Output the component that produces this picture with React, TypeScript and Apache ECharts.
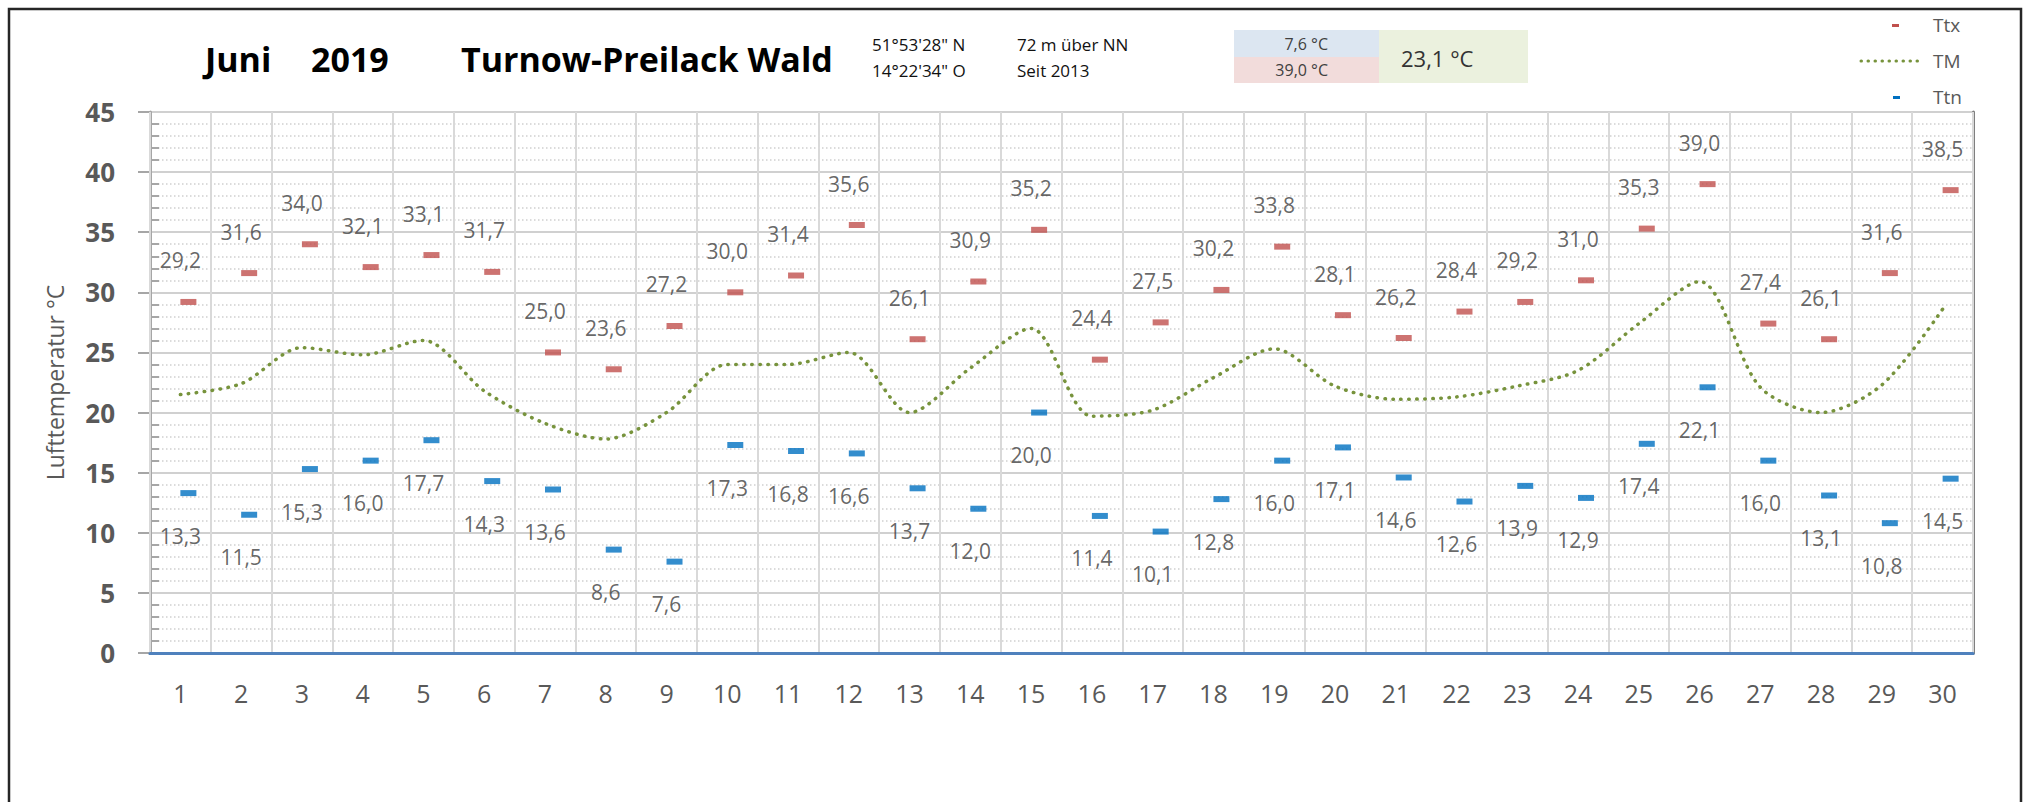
import React, { useEffect, useRef } from 'react';
import * as echarts from 'echarts';

const days = ['1','2','3','4','5','6','7','8','9','10','11','12','13','14','15','16','17','18','19','20','21','22','23','24','25','26','27','28','29','30'];
const ttx = [29.2, 31.6, 34.0, 32.1, 33.1, 31.7, 25.0, 23.6, 27.2, 30.0, 31.4, 35.6, 26.1, 30.9, 35.2, 24.4, 27.5, 30.2, 33.8, 28.1, 26.2, 28.4, 29.2, 31.0, 35.3, 39.0, 27.4, 26.1, 31.6, 38.5];
const ttn = [13.3, 11.5, 15.3, 16.0, 17.7, 14.3, 13.6, 8.6, 7.6, 17.3, 16.8, 16.6, 13.7, 12.0, 20.0, 11.4, 10.1, 12.8, 16.0, 17.1, 14.6, 12.6, 13.9, 12.9, 17.4, 22.1, 16.0, 13.1, 10.8, 14.5];
const tm = [21.5, 22.4, 25.4, 24.8, 26.0, 21.8, 19.1, 17.8, 20.0, 24.0, 24.0, 25.0, 20.0, 23.7, 27.0, 19.7, 20.2, 22.9, 25.3, 22.2, 21.1, 21.3, 22.2, 23.5, 27.4, 30.9, 22.1, 20.0, 22.3, 28.6];

const titleParts = ['Juni', '2019', 'Turnow-Preilack Wald'];
const coordLines = ['51°53\'28" N', '14°22\'34" O'];
const siteLines = ['72 m über NN', 'Seit 2013'];
const monthMin = '7,6 °C';
const monthMax = '39,0 °C';
const monthMean = '23,1 °C';
const legendNames = ['Ttx', 'TM', 'Ttn'];

const fmt = (v: number) => v.toFixed(1).replace('.', ',');
const FONT = 'Open Sans';

export default function App() {
  const ref = useRef<HTMLDivElement>(null);
  useEffect(() => {
    if (!ref.current) return;
    const chart = echarts.init(ref.current, undefined, { renderer: 'svg' });
    const labelBase = { color: '#404040', fontSize: 21, fontFamily: FONT };
    const txt = (x: number, y: number, text: string, extra: any = {}) => ({
      type: 'text', x, y, z: 10,
      style: { text, fontFamily: FONT, fontSize: 17, fill: '#111', verticalAlign: 'middle', align: 'left', ...extra },
    });
    const option: any = {
      animation: false,
      backgroundColor: '#ffffff',
      grid: { left: 150, right: 52, top: 112, bottom: 149, show: false },
      xAxis: [
        {
          type: 'category', data: days, boundaryGap: true, position: 'bottom', z: 3,
          axisLine: { show: true, lineStyle: { color: '#4f81bd', width: 3 } },
          axisTick: { show: false },
          axisLabel: { color: '#595959', fontSize: 25, fontFamily: FONT, margin: 27 },
          splitLine: { show: true, lineStyle: { color: '#d9d9d9', width: 2 } },
        },
        {
          type: 'category', data: days, position: 'top',
          axisLine: { show: true, lineStyle: { color: '#7f7f7f', width: 3 } },
          axisTick: { show: false }, axisLabel: { show: false }, splitLine: { show: false },
        },
      ],
      yAxis: [
        {
          type: 'value', min: 0, max: 45, interval: 5, position: 'left',
          axisLine: { show: true, lineStyle: { color: '#a6a6a6', width: 3 } },
          axisTick: { show: true, length: 12, lineStyle: { color: '#a6a6a6', width: 2 } },
          axisLabel: { color: '#595959', fontSize: 26, fontWeight: 'bold', fontFamily: FONT, margin: 35 },
          splitLine: { show: true, lineStyle: { color: '#d0d0d0', width: 2 } },
          minorTick: { show: false, splitNumber: 5 },
          minorSplitLine: { show: true, lineStyle: { color: '#cfcfcf', width: 1.5, type: [1.5, 2.5] } },
          name: 'Lufttemperatur °C', nameLocation: 'middle', nameGap: 84, nameRotate: 90,
          nameTextStyle: { color: '#595959', fontSize: 23, fontFamily: FONT },
        },
        {
          type: 'value', min: 0, max: 45, interval: 5, position: 'left', offset: 0,
          axisLine: { show: false }, axisTick: { show: false, inside: true },
          minorTick: { show: true, splitNumber: 5, length: 9, lineStyle: { color: '#a6a6a6', width: 2 } },
          axisLabel: { show: false }, splitLine: { show: false }, minorSplitLine: { show: false },
        },
        {
          type: 'value', min: 0, max: 45, interval: 5, position: 'right',
          axisLine: { show: true, lineStyle: { color: '#7f7f7f', width: 3 } },
          axisTick: { show: false }, axisLabel: { show: false }, splitLine: { show: false },
        },
      ],
      series: [
        {
          name: 'TM', type: 'line', data: tm, smooth: 0.3, showSymbol: false, symbol: 'none', z: 4,
          lineStyle: { color: '#77933c', width: 3.5, type: [0.5, 7.5], cap: 'round' },
        },
        {
          name: 'Ttx', type: 'scatter', data: ttx, symbol: 'rect', symbolSize: [16, 6], symbolOffset: [8, 0], z: 5,
          itemStyle: { color: '#c0504d' },
          label: { show: true, position: 'top', distance: 28, offset: [-8, 0], formatter: (p: any) => fmt(p.value), ...labelBase },
        },
        {
          name: 'Ttn', type: 'scatter', data: ttn, symbol: 'rect', symbolSize: [16, 6], symbolOffset: [8, 0], z: 5,
          itemStyle: { color: '#0070c0' },
          label: { show: true, position: 'bottom', distance: 29, offset: [-8, 0], formatter: (p: any) => fmt(p.value), ...labelBase },
        },
      ],
      graphic: [
        { type: 'polyline', z: 10, shape: { points: [[9, 810], [9, 9], [2021, 9], [2021, 810]] }, style: { stroke: '#262626', lineWidth: 2.5, fill: null } },
        txt(205, 59, titleParts[0], { fontSize: 34, fontWeight: 'bold', fill: '#000' }),
        txt(311, 59, titleParts[1], { fontSize: 34, fontWeight: 'bold', fill: '#000' }),
        txt(461, 59, titleParts[2], { fontSize: 34, fontWeight: 'bold', fill: '#000' }),
        txt(872, 44, coordLines[0]),
        txt(872, 70, coordLines[1]),
        txt(1017, 44, siteLines[0]),
        txt(1017, 70, siteLines[1]),
        { type: 'rect', z: 5, shape: { x: 1234, y: 30, width: 145, height: 27 }, style: { fill: '#dce6f1' } },
        { type: 'rect', z: 5, shape: { x: 1234, y: 57, width: 145, height: 26 }, style: { fill: '#f2dcdb' } },
        { type: 'rect', z: 5, shape: { x: 1379, y: 30, width: 149, height: 53 }, style: { fill: '#ebf1de' } },
        txt(1328, 44, monthMin, { align: 'right', fontSize: 16, fill: '#404040' }),
        txt(1328, 70, monthMax, { align: 'right', fontSize: 16, fill: '#404040' }),
        txt(1401, 58, monthMean, { fontSize: 22, fill: '#333' }),
        { type: 'rect', z: 10, shape: { x: 1892, y: 24, width: 7, height: 3 }, style: { fill: '#c0504d' } },
        txt(1933, 25, legendNames[0], { fontSize: 19, fill: '#595959' }),
        { type: 'line', z: 10, shape: { x1: 1861, y1: 61, x2: 1924, y2: 61 }, style: { stroke: '#77933c', lineWidth: 3, lineDash: [0.5, 6.5], lineCap: 'round' } },
        txt(1933, 61, legendNames[1], { fontSize: 19, fill: '#595959' }),
        { type: 'rect', z: 10, shape: { x: 1893, y: 96, width: 7, height: 3 }, style: { fill: '#0070c0' } },
        txt(1933, 97, legendNames[2], { fontSize: 19, fill: '#595959' }),
      ],
    };
    chart.setOption(option);
    return () => chart.dispose();
  }, []);
  return <div ref={ref} style={{ position: 'absolute', left: 0, top: 0, width: 2025, height: 802 }} />;
}
